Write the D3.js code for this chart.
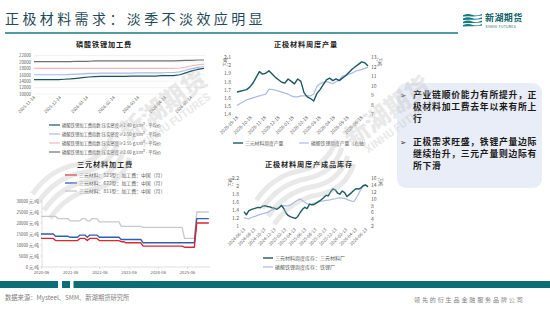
<!DOCTYPE html>
<html>
<head>
<meta charset="utf-8">
<script src="https://cdn.jsdelivr.net/npm/d3@7"></script>
<style>
  body { margin: 0; background: #fff; }
  svg { display: block; }
</style>
</head>
<body>
<div id="page"></div>
<script>
// ---------- 数据 ----------
// 磷酸铁锂加工费（周度）
const lfpStart = "2025-11-14";
const lfpTicks = ["2025-11-14","2025-12-14","2026-01-14","2026-02-14","2026-03-14","2026-04-14","2026-05-14"];
const lfpNames = [
  "磷酸铁锂加工费指数:压实密度≥2.40 g/cm³ - 平均价",
  "磷酸铁锂加工费指数:压实密度≥2.50 g/cm³ - 平均价",
  "磷酸铁锂加工费指数:压实密度≥2.55 g/cm³ - 平均价",
  "磷酸铁锂加工费指数:压实密度≥2.60 g/cm³ - 平均价"
];
const lfp240 = [14500,14500,14500,14500,14500,14600,14700,14900,15100,15300,15400,15500,15500,15500,15500,15500,15600,15600,15600,15600,15600,15700,15700,15700,16000,16600,17200,17700,18000];
const lfp250 = [16000,16000,16000,16000,16000,16000,16100,16200,16300,16400,16400,16500,16500,16500,16500,16500,16500,16600,16600,16600,16600,16600,16700,16700,16900,17400,17900,18300,18500];
const lfp255 = [18000,18000,18000,18000,18000,18000,18000,18000,18000,18000,18000,18000,18000,18000,18000,18000,18000,18000,18000,18000,18000,18000,18000,18000,18100,18400,18800,19100,19300];
const lfp260 = [20100,20100,20100,20100,20100,20100,20100,20200,20200,20200,20300,20300,20300,20300,20300,20300,20300,20300,20300,20300,20300,20300,20300,20300,20400,20500,20500,20600,20600];
const lfpTicksY = [10000,12000,14000,16000,18000,20000,22000];

// 正极材料周度产量
const outStart = "2025-09-18";
const outTicks = ["2025-09-18","2025-10-18","2025-11-18","2025-12-18","2026-01-18","2026-02-18","2026-03-18","2026-04-18","2026-05-18","2026-06-18"];
const outNcm = [1.67,1.68,1.69,1.70,1.73,1.78,1.85,1.92,1.89,1.90,1.93,1.89,1.85,1.82,1.79,1.78,1.83,1.80,1.77,1.83,1.80,1.66,1.61,1.59,1.56,1.65,1.70,1.76,1.82,1.84,1.81,1.83,1.81,1.84,1.87,1.91,1.95,1.98,2.01,2.04,2.03,1.99];
const outLfp = [7.9,8.1,8.3,8.5,8.6,8.7,8.8,8.9,9.0,9.1,9.6,9.6,9.5,9.4,9.3,9.2,9.1,8.9,8.8,8.8,8.9,8.9,8.9,8.9,9.1,9.9,10.2,10.3,10.4,10.3,10.2,10.4,10.6,11.0,11.1,11.2,11.3,11.5,11.6,11.7,11.8,11.9];
const outLeftTicks = [1.4,1.5,1.6,1.7,1.8,1.9,2.0,2.1];
const outRightTicks = [7,8,9,10,11,12,13];

// 三元材料加工费（月度）
const ncmStart = "2020-06-01";
const ncmTicks = ["2020-06-01","2021-06-01","2022-06-01","2023-06-01","2024-06-01","2025-06-01"];
const ncmNames = ["三元材料：523型：加工费：中国（月）","三元材料：622型：加工费：中国（月）","三元材料：811型：加工费：中国（月）"];
const ncm523 = [13000,13000,13000,13000,13000,13000,12000,12000,12000,12000,12000,12000,12000,12000,12000,12000,13000,13000,13000,12000,13000,13000,13000,13000,12000,12000,12000,12000,12000,12000,12000,12000,12000,11500,11500,11000,11000,11000,11000,11000,11000,11000,9500,9500,9500,9500,9500,9500,9500,9500,9500,9500,9500,9500,9500,9500,9500,9500,9500,9000,9000,9000,9000,9000,20000,20000,20000,20000,20000,20000];
const ncm622 = [15000,15000,15000,15000,15000,15000,14000,14000,14000,14000,14000,14000,13500,13500,13500,13500,14500,14500,14500,13500,14500,14500,14500,14500,13500,13500,13500,13500,13500,13500,13500,13500,13500,12500,12500,12500,12500,12500,12500,12500,12500,12500,11000,11000,11000,11000,11000,11000,11000,11000,11000,11000,11000,11000,11000,11000,11000,11000,11000,11000,11000,11000,11000,11000,22000,22000,22000,22000,22000,22000];
const ncm811 = [23000,23000,23000,23000,23000,23000,23000,22000,22000,22000,22000,22000,21000,21000,21000,21000,21000,22000,22000,21000,21000,22000,22000,22000,20500,20500,20500,20500,20500,20500,20500,20500,20500,18500,18500,18500,18500,18500,18500,18500,18500,18500,18000,18000,18000,18000,18000,18000,18000,18000,18000,18000,18000,18000,18000,18000,18000,18000,18000,13000,13000,13000,13000,13000,25000,25000,25000,25000,25000,25000];
const ncmTicksY = [0,5000,10000,15000,20000,25000,30000];

// 正极材料周度产成品库存（双周取值）
const invStart = "2024-06-13";
const invTicks = ["2024-06-13","2024-08-13","2024-10-13","2024-12-13","2025-02-13","2025-04-13","2025-06-13","2025-08-13","2025-10-13","2025-12-13","2026-02-13","2026-04-13","2026-06-13"];
const invNcm = [1.36,1.28,1.38,1.41,1.43,1.45,1.47,1.46,1.50,1.51,1.49,1.48,1.46,1.45,1.42,1.46,1.52,1.44,1.32,1.26,1.23,1.21,1.19,1.24,1.34,1.42,1.47,1.44,1.55,1.53,1.54,1.58,1.62,1.66,1.71,1.77,1.76,1.86,1.93,1.91,1.83,1.80,1.88,1.84,1.74,1.79,1.84,1.90,1.94,1.93,1.96,2.02,2.03,1.98];
const invLfp = [4.5,4.2,4.1,4.4,4.7,4.9,5.2,5.4,5.6,5.8,6.0,6.4,6.7,7.0,7.2,7.5,7.9,8.0,7.9,8.0,8.2,8.7,9.2,9.6,9.9,9.5,9.0,8.5,8.4,8.5,8.7,8.9,9.1,9.3,9.4,9.5,9.6,9.7,9.9,10.0,10.2,10.3,10.2,10.1,9.8,9.5,9.3,9.2,10.3,11.5,12.8,13.6,14.0,13.7];
const invLeftTicks = [1,1.2,1.4,1.6,1.8,2,2.2];
const invRightTicks = [2,4,6,8,10,12,14,16];

const bullets = [
  ["产业链顺价能力有所提升，正", "极材料加工费去年以来有所上", "行"],
  ["正极需求旺盛，铁锂产量边际", "继续抬升，三元产量则边际有", "所下滑"]
];

// ---------- 画布 ----------
const W = 550, H = 310;
const FONT = '"Noto Sans CJK SC","Noto Sans",sans-serif';
const TXT = "#595959";
const parse = d3.timeParse("%Y-%m-%d");

const svg = d3.select("#page").append("svg")
  .attr("width", W).attr("height", H)
  .style("font-family", FONT);

const seq = (start, vals, days) => vals.map((v, i) => ({ date: d3.timeDay.offset(parse(start), i * days), v }));
const monthly = (start, vals) => vals.map((v, i) => ({ date: d3.timeMonth.offset(parse(start), i), v }));

// 纵轴刻度文字
function yLabels(scale, ticks, x, anchor, fmt, size) {
  const ax = (anchor === "end" ? d3.axisLeft(scale) : d3.axisRight(scale))
    .tickValues(ticks).tickSize(0).tickPadding(0).tickFormat(fmt);
  const g = svg.append("g").attr("transform", `translate(${x},0)`).call(ax);
  g.select(".domain").remove();
  g.attr("font-family", FONT).attr("font-size", size);
  g.selectAll("text").attr("fill", TXT).attr("x", 0).attr("text-anchor", anchor);
  return g;
}

// 斜放的日期标签
function xDates(scale, ticks, y, size, fmt) {
  const g = svg.append("g").attr("transform", `translate(0,${y})`)
    .call(d3.axisBottom(scale).tickValues(ticks.map(parse)).tickSize(0).tickPadding(0).tickFormat(fmt));
  g.select(".domain").remove();
  g.attr("font-family", FONT).attr("font-size", size);
  g.selectAll("text").attr("fill", TXT)
    .attr("y", 0).attr("x", 0).attr("dy", "0.3em")
    .attr("text-anchor", "end")
    .attr("transform", "rotate(-45)");
}

function title(text, cx, y) {
  svg.append("text").attr("x", cx).attr("y", y).attr("text-anchor", "middle")
    .attr("font-size", 7.2).attr("font-weight", 700).attr("fill", "#222")
    .attr("letter-spacing", 0.8).text(text);
}

function drawLine(data, x, y, color, w) {
  svg.append("path").datum(data)
    .attr("fill", "none").attr("stroke", color).attr("stroke-width", w)
    .attr("stroke-linejoin", "round")
    .attr("d", d3.line().x(d => x(d.date)).y(d => y(d.v)));
}

function legendItem(x, y, color, w, text, size, len) {
  svg.append("line").attr("x1", x).attr("x2", x + len).attr("y1", y).attr("y2", y)
    .attr("stroke", color).attr("stroke-width", w);
  svg.append("text").attr("x", x + len + 2).attr("y", y).attr("dy", "0.35em")
    .attr("font-size", size).attr("fill", TXT).text(text);
}

// ---------- 页眉 ----------
svg.append("text").attr("x", 5).attr("y", 24)
  .attr("font-size", 14).attr("letter-spacing", 3.4).attr("fill", "#1f4a58")
  .text("正极材料需求：淡季不淡效应明显");
svg.append("line").attr("x1", 5).attr("x2", 458).attr("y1", 33).attr("y2", 33)
  .attr("stroke", "#17797f").attr("stroke-width", 1.4);

// 标志
const logo = svg.append("g").attr("fill", "#137a82");
[0, 1, 2, 3].forEach(k => {
  const yy = 14 + k * 3.3;
  logo.append("path").attr("d", `M463,${yy + 1.2} Q468,${yy - 1} 472,${yy + 0.8} T482,${yy} L482,${yy + 1.6} Q477,${yy + 2.6} 472,${yy + 2.4} T463,${yy + 2.6} Z`);
});
svg.append("text").attr("x", 485).attr("y", 21).attr("font-size", 9).attr("font-weight", 700)
  .attr("fill", "#12616a").attr("letter-spacing", 0.4).text("新湖期货");
svg.append("text").attr("x", 485.5).attr("y", 27.5).attr("font-size", 3.4).attr("fill", "#12616a")
  .attr("letter-spacing", 0.35).text("XINHU FUTURES");

// ---------- 图1 磷酸铁锂加工费 ----------
{
  const x = d3.scaleTime().domain([parse(lfpStart), parse("2026-05-29")]).range([34, 204]);
  const y = d3.scaleLinear().domain([10000, 22000]).range([94, 55.5]);
  title("磷酸铁锂加工费", 104, 46.5);
  svg.append("g").selectAll("line").data(lfpTicksY).join("line")
    .attr("x1", 34).attr("x2", 205).attr("y1", d => y(d)).attr("y2", d => y(d))
    .attr("stroke", "#e4e4e4").attr("stroke-width", 0.5);
  yLabels(y, lfpTicksY, 31, "end", d3.format("d"), 4.3);
  xDates(x, lfpTicks, 97, 4.3, d3.timeFormat("%Y-%m-%d"));
  const series = [lfp260, lfp255, lfp250, lfp240];
  const colors = ["#767171", "#f6b9b9", "#a8bce8", "#17585e"];
  series.forEach((s, i) => drawLine(seq(lfpStart, s, 7), x, y, colors[i], 1.2));
  const legColors = ["#17585e", "#a8bce8", "#f6b9b9", "#767171"];
  lfpNames.forEach((n, i) => legendItem(49, 125 + i * 9, legColors[i], 1.2, n, 4.3, 11));
}

// ---------- 图2 正极材料周度产量 ----------
{
  const x = d3.scaleTime().domain([parse(outStart), parse("2026-07-02")]).range([237, 368]);
  const yl = d3.scaleLinear().domain([1.4, 2.1]).range([114, 57]);
  const yr = d3.scaleLinear().domain([7, 13]).range([114, 57]);
  title("正极材料周度产量", 306, 46.5);
  yLabels(yl, outLeftTicks, 231, "end", d => String(+d.toFixed(1)), 5);
  yLabels(yr, outRightTicks, 371, "start", d3.format("d"), 5);
  svg.append("text").attr("transform", "translate(227,62) rotate(-90)").attr("text-anchor", "middle")
    .attr("font-size", 4.5).attr("fill", TXT).text("万吨");
  svg.append("text").attr("transform", "translate(378,62) rotate(90)").attr("text-anchor", "middle")
    .attr("font-size", 4.5).attr("fill", TXT).text("万吨");
  xDates(x, outTicks, 117, 4.6, d3.timeFormat("%Y-%m-%d"));
  drawLine(seq(outStart, outLfp, 7), x, yr, "#a9bbe8", 1.2);
  drawLine(seq(outStart, outNcm, 7), x, yl, "#1c5960", 1.4);
  legendItem(233, 143, "#1c5960", 1.4, "三元材料周度产量", 4.8, 10);
  legendItem(299, 143, "#a9bbe8", 1.2, "磷酸铁锂周度产量（右轴）", 4.8, 10);
}

// ---------- 图3 三元材料加工费 ----------
{
  const x = d3.scaleTime().domain([parse(ncmStart), parse("2025-06-01")]).range([41, 187]);
  const y = d3.scaleLinear().domain([0, 30000]).range([267, 201]);
  title("三元材料加工费", 105, 167);
  ncmNames.forEach((n, i) => legendItem(65, 175 + i * 8, ["#e0262d", "#2f5fb3", "#c9c9c9"][i], 1.3, n, 4.9, 12));
  yLabels(y, ncmTicksY, 39, "end", d => d + " 元/吨", 4.2);
  svg.append("line").attr("x1", 42).attr("x2", 42).attr("y1", 201).attr("y2", 267)
    .attr("stroke", "#bfbfbf").attr("stroke-width", 0.5);
  svg.append("g").selectAll("line").data(ncmTicksY).join("line")
    .attr("x1", 40.5).attr("x2", 42).attr("y1", d => y(d)).attr("y2", d => y(d))
    .attr("stroke", "#bfbfbf").attr("stroke-width", 0.5);
  const gx = svg.append("g").attr("transform", "translate(0,267)")
    .call(d3.axisBottom(x).tickValues(ncmTicks.map(parse)).tickSize(2).tickPadding(2).tickFormat(d3.timeFormat("%Y-%m")));
  gx.attr("font-family", FONT).attr("font-size", 4.2);
  gx.select(".domain").attr("stroke", "#bfbfbf").attr("stroke-width", 0.5).attr("d", "M42,0H210");
  gx.selectAll("line").attr("stroke", "#bfbfbf").attr("stroke-width", 0.5);
  gx.selectAll("text").attr("fill", TXT);
  drawLine(monthly(ncmStart, ncm811), x, y, "#c9c9c9", 1.3);
  drawLine(monthly(ncmStart, ncm622), x, y, "#2f5fb3", 1.4);
  drawLine(monthly(ncmStart, ncm523), x, y, "#e0262d", 1.4);
}

// ---------- 图4 正极材料周度产成品库存 ----------
{
  const x = d3.scaleTime().domain([parse(invStart), parse("2026-06-25")]).range([244, 368]);
  const yl = d3.scaleLinear().domain([1, 2.2]).range([226, 178.3]);
  const yr = d3.scaleLinear().domain([2, 16]).range([226, 178.3]);
  title("正极材料周度产成品库存", 309, 167);
  yLabels(yl, invLeftTicks, 239, "end", d => String(+d.toFixed(1)), 5);
  yLabels(yr, invRightTicks, 371, "start", d3.format("d"), 5);
  svg.append("text").attr("transform", "translate(232,182) rotate(-90)").attr("text-anchor", "middle")
    .attr("font-size", 4.5).attr("fill", TXT).text("万吨");
  svg.append("text").attr("transform", "translate(379,182) rotate(90)").attr("text-anchor", "middle")
    .attr("font-size", 4.5).attr("fill", TXT).text("万吨");
  xDates(x, invTicks, 229, 4.4, d3.timeFormat("%Y-%m-%d"));
  drawLine(seq(invStart, invLfp, 14), x, yr, "#a9bbe8", 1.2);
  drawLine(seq(invStart, invNcm, 14), x, yl, "#1c5960", 1.4);
  legendItem(263, 258, "#1c5960", 1.4, "三元材料周度库存：三元材料厂", 5, 10);
  legendItem(263, 267, "#a9bbe8", 1.2, "磷酸铁锂周度库存：铁锂厂", 5, 10);
}

// ---------- 右侧要点 ----------
svg.append("rect").attr("x", 397).attr("y", 83).attr("width", 145).attr("height", 105)
  .attr("rx", 9).attr("fill", "#e9edf7");
const lineYs = [[98, 110.2, 122.4], [145, 157.2, 169.4]];
bullets.forEach((b, i) => {
  svg.append("text").attr("x", 400).attr("y", lineYs[i][0]).attr("font-size", 7.5)
    .attr("font-family", '"DejaVu Sans"').attr("fill", "#222").text("➢");
  b.forEach((t, j) => {
    svg.append("text").attr("x", 413).attr("y", lineYs[i][j])
      .attr("font-size", 8.8).attr("font-weight", 600).attr("letter-spacing", 0.75)
      .attr("fill", "#1a1a1a").text(t);
  });
});

// ---------- 页脚 ----------
[[0, 58], [62, 70], [73.5, 550]].forEach(([a, b]) => {
  svg.append("rect").attr("x", a).attr("y", 281).attr("width", b - a).attr("height", 7).attr("fill", "#0e6e77");
});
svg.append("text").attr("x", 5).attr("y", 300).attr("font-size", 6.3).attr("fill", "#808080")
  .text("数据来源：Mysteel、SMM、新湖期货研究所");
svg.append("text").attr("x", 414).attr("y", 302).attr("font-size", 6).attr("letter-spacing", 1.9)
  .attr("fill", "#808080").text("领先的衍生品金融服务品牌公司");

// ---------- 水印 ----------
function watermark(tx, ty) {
  const g = svg.append("g").attr("transform", `translate(${tx},${ty}) rotate(-36)`)
    .attr("fill", "#bdbdbd").attr("opacity", 0.32).style("pointer-events", "none");
  [0, 1, 2, 3].forEach(k => {
    g.append("path").attr("fill", "none").attr("stroke", "#bdbdbd").attr("stroke-width", 5)
      .attr("d", `M-108,${-14 + k * 10} Q-80,${-24 + k * 10} -55,${-12 + k * 10} T-8,${-16 + k * 10}`);
  });
  g.append("text").attr("x", 0).attr("y", 0).attr("font-size", 25).attr("font-weight", 900).text("新湖期货");
  g.append("text").attr("x", 10).attr("y", 14).attr("font-size", 11).attr("font-weight", 700)
    .attr("font-family", "Roboto, sans-serif").text("XINHU FUTURES");
}
watermark(128, 142);
watermark(352, 148);
</script>
</body>
</html>
